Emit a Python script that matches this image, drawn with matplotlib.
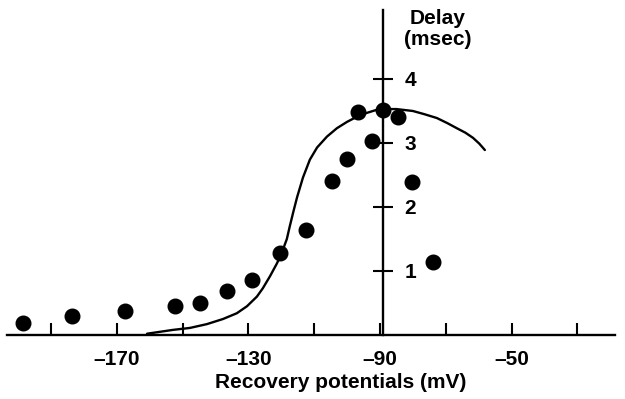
import matplotlib.pyplot as plt

plt.rcParams['font.family'] = ['Liberation Sans', 'DejaVu Sans']

# measured delays (dots)
dot_mv = [-198.5, -183.6, -167.5, -152.3, -144.7, -136.5, -128.9, -120.4, -112.5,
          -104.6, -100.0, -96.7, -92.4, -89.1, -84.5, -80.3, -73.9]
dot_delay = [0.19, 0.30, 0.375, 0.45, 0.50, 0.69, 0.86, 1.28, 1.64,
             2.41, 2.75, 3.48, 3.03, 3.52, 3.41, 2.39, 1.14]

# theoretical curve
curve_mv = [-160.8, -152.9, -147.8, -142.6, -137.7, -133.5, -130.4, -127.4, -125.6,
            -123.4, -121.3, -119.8, -118.3, -117.4, -116.3, -115.2, -113.4, -111.3,
            -109.1, -106.1, -103.1, -100.0, -97.0, -94.0, -91.5, -89.1, -85.0,
            -80.0, -76.5, -72.7, -69.5, -66.6, -64.0, -61.7, -59.8, -58.1]
curve_delay = [0.02, 0.08, 0.11, 0.17, 0.25, 0.34, 0.45, 0.60, 0.73,
               0.92, 1.12, 1.29, 1.50, 1.70, 1.93, 2.15, 2.46, 2.74,
               2.93, 3.10, 3.23, 3.33, 3.41, 3.47, 3.51, 3.53, 3.53,
               3.50, 3.45, 3.39, 3.31, 3.23, 3.16, 3.08, 2.99, 2.89]

major_x = [-170, -130, -90, -50]
minor_x = [-190, -150, -110, -70, -30]
y_ticks = [1, 2, 3, 4]

fig = plt.figure(figsize=(6.25, 3.99), dpi=100)
ax = fig.add_axes([0, 0, 1, 1])
ax.set_xlim(-205.5, -15.5)
ax.set_ylim(-1.0, 5.234)

ax.plot(curve_mv, curve_delay, color='black', lw=1.7, solid_capstyle='round',
        solid_joinstyle='round')
ax.plot(dot_mv, dot_delay, 'o', color='black', markersize=10.5)

for s in ['top', 'left']:
    ax.spines[s].set_visible(False)
ax.spines['bottom'].set_position(('data', 0))
ax.spines['bottom'].set_bounds(-203.5, -18.5)
ax.spines['right'].set_position(('data', -89))
ax.spines['right'].set_bounds(0, 5.08)
for s in ['bottom', 'right']:
    ax.spines[s].set_linewidth(1.7)

ax.set_xticks(major_x)
ax.set_xticklabels(['\u2013170', '\u2013130', '\u201390', '\u201350'])
ax.set_xticks(minor_x, minor=True)
ax.tick_params(axis='x', which='both', direction='in', length=8.5, width=1.5,
               pad=11, labelsize=15)

ax.yaxis.tick_right()
ax.set_yticks(y_ticks)
ax.tick_params(axis='y', direction='inout', length=14.5, width=1.5,
               pad=8, labelsize=15)

for lab in ax.get_xticklabels() + ax.get_yticklabels():
    lab.set_fontweight('bold')

ax.text(-72.4, 4.78, 'Delay\n(msec)', ha='center', va='center', fontsize=15,
        fontweight='bold', linespacing=1.15)
ax.text(-101.9, -0.75, 'Recovery potentials (mV)', ha='center', va='center',
        fontsize=15, fontweight='bold')

fig.savefig('out.png', dpi=100)
